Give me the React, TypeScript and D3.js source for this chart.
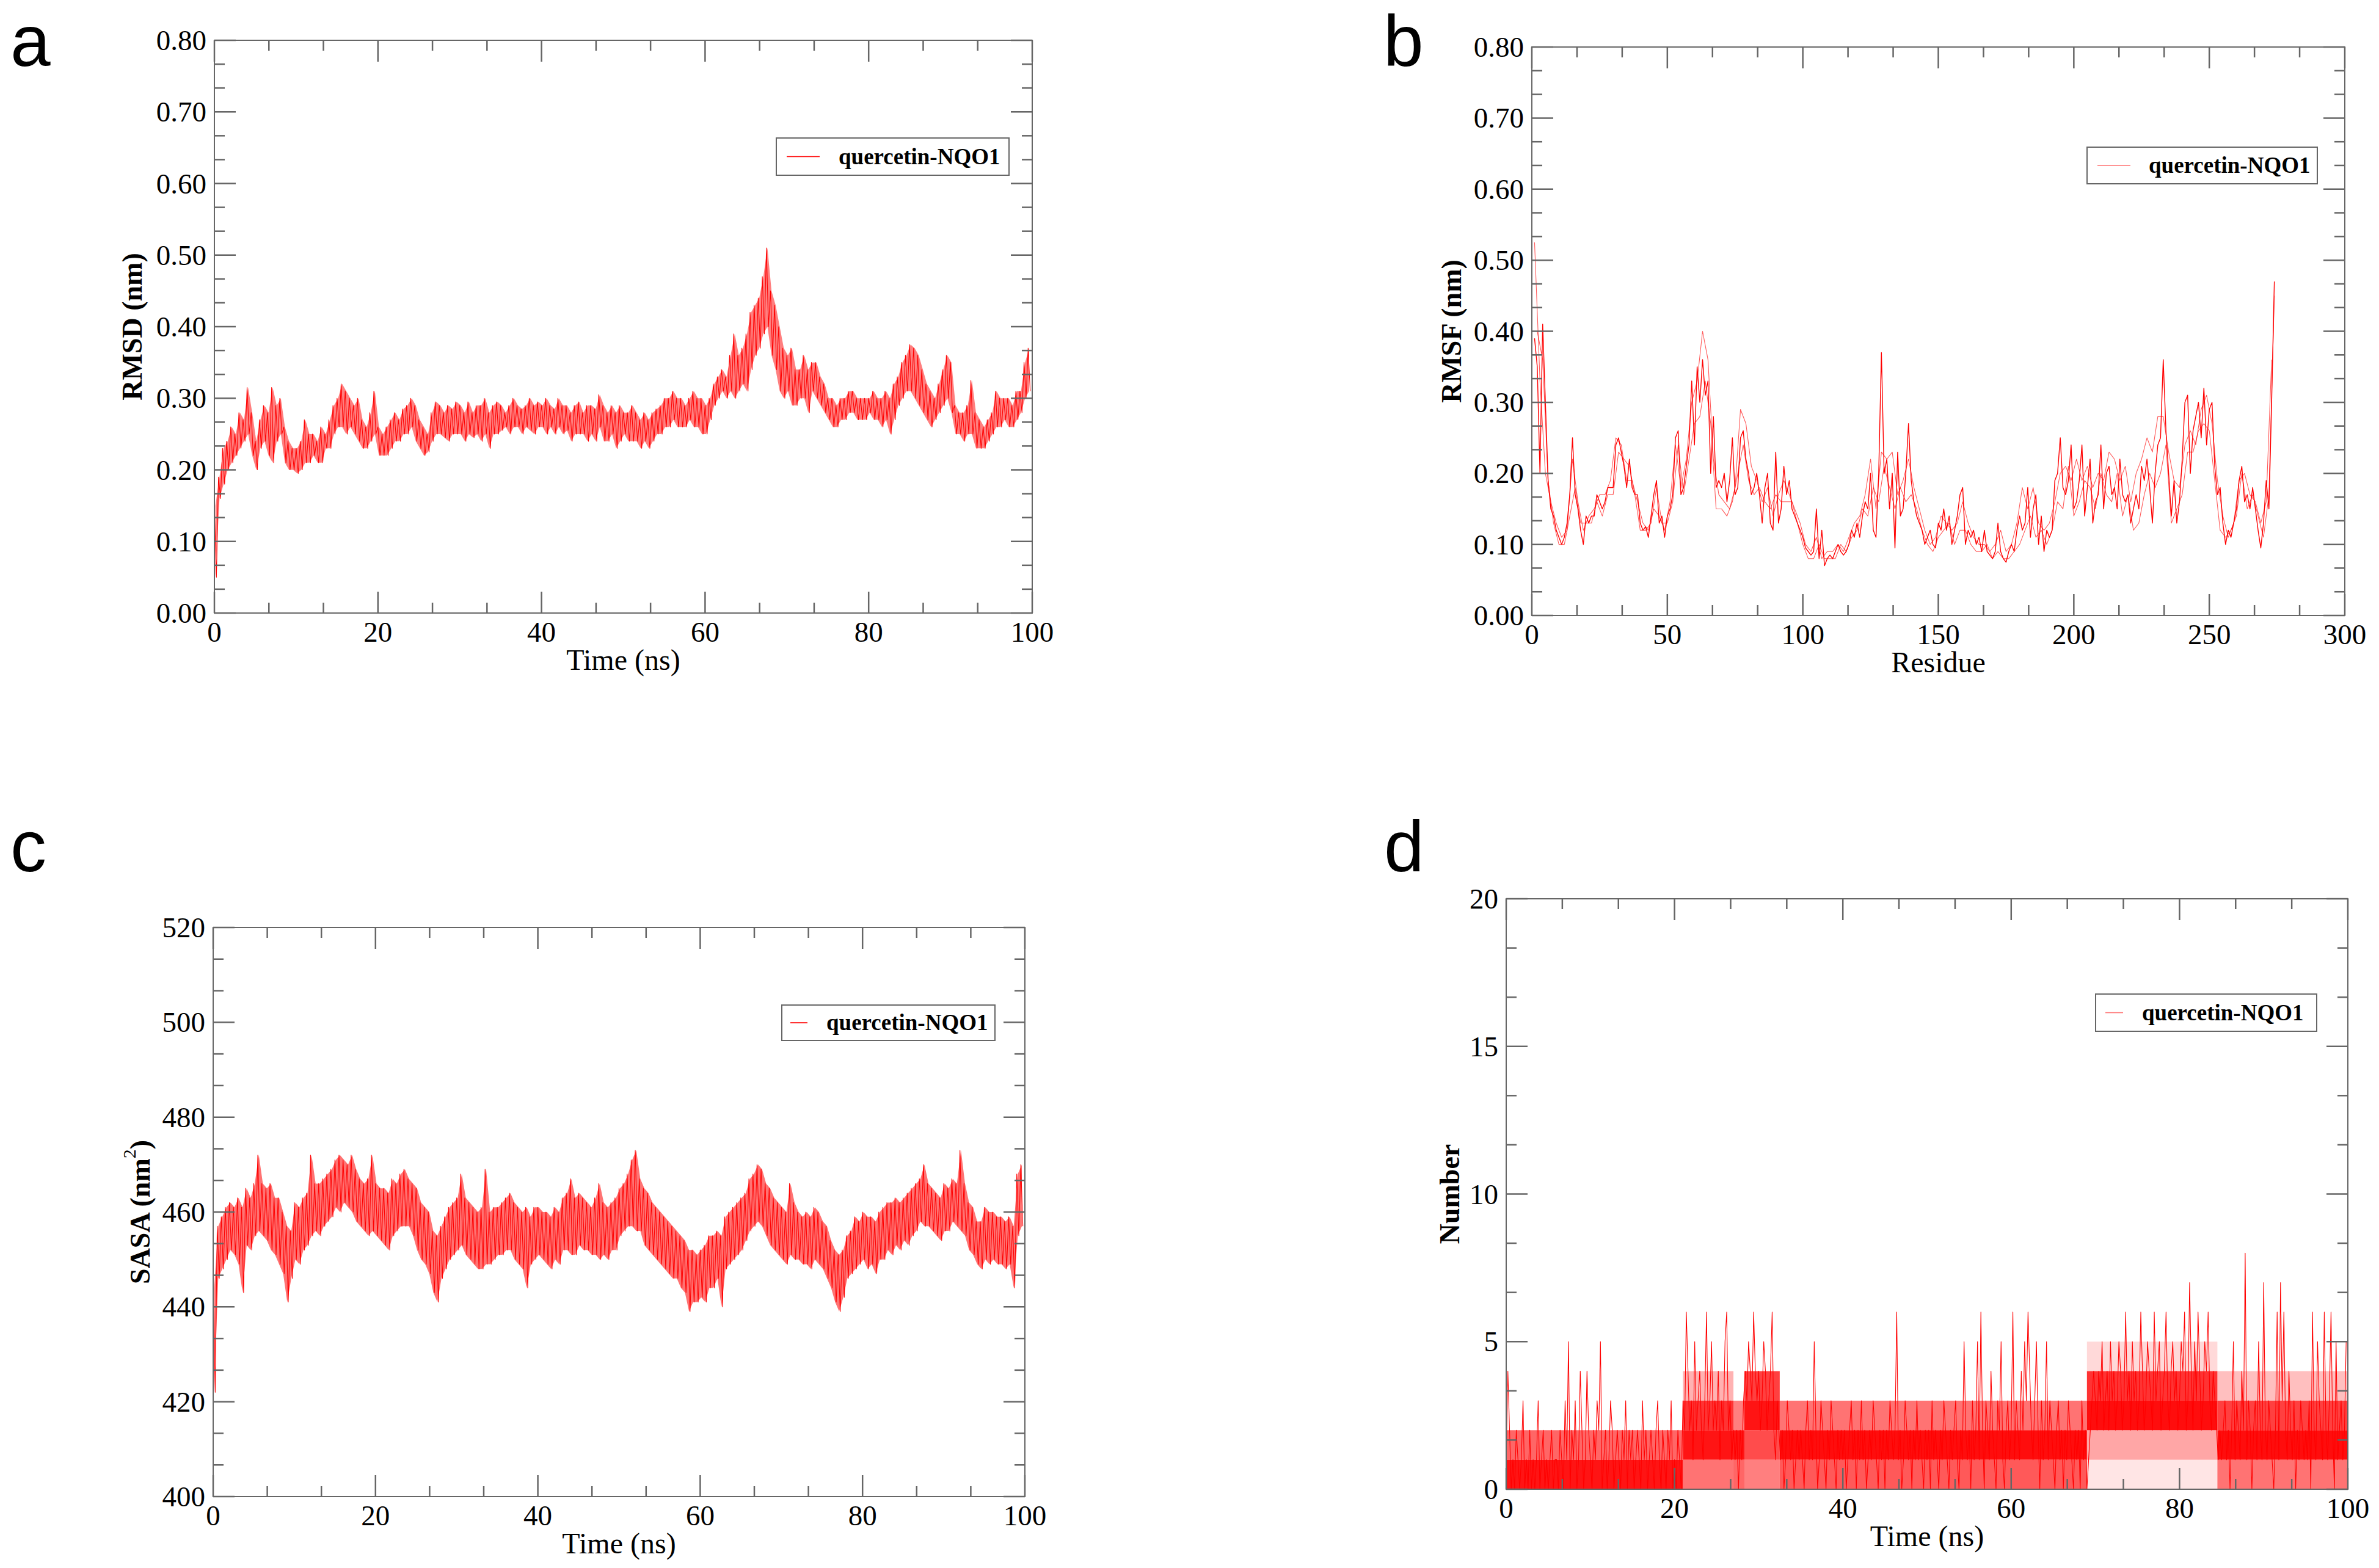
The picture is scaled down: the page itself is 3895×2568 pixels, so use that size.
import React, { useEffect, useRef } from 'react';
import * as d3 from 'd3';

// RMSD (nm): upper / lower edge of the trace in 0.5 ns bins
const rmsdStep = 0.5;
const rmsdHigh = [
  0.15, 0.19, 0.23, 0.24, 0.26, 0.25, 0.28, 0.27, 0.315, 0.28, 0.24, 0.27, 0.29, 0.28, 0.315, 0.29, 0.30, 0.26, 0.24, 0.23,
  0.23, 0.24, 0.27, 0.25, 0.25, 0.24, 0.26, 0.25, 0.27, 0.29, 0.30, 0.32, 0.31, 0.30, 0.29, 0.30, 0.27, 0.26, 0.28, 0.31,
  0.26, 0.25, 0.26, 0.27, 0.28, 0.27, 0.285, 0.29, 0.30, 0.29, 0.27, 0.26, 0.25, 0.28, 0.295, 0.29, 0.28, 0.29, 0.285, 0.295,
  0.29, 0.28, 0.295, 0.28, 0.29, 0.29, 0.30, 0.28, 0.29, 0.295, 0.29, 0.28, 0.29, 0.30, 0.29, 0.285, 0.29, 0.30, 0.29, 0.295,
  0.29, 0.30, 0.29, 0.285, 0.30, 0.29, 0.29, 0.28, 0.29, 0.295, 0.28, 0.29, 0.29, 0.285, 0.305, 0.29, 0.28, 0.29, 0.28, 0.29,
  0.28, 0.28, 0.29, 0.28, 0.27, 0.28, 0.27, 0.28, 0.285, 0.29, 0.30, 0.30, 0.31, 0.30, 0.30, 0.29, 0.30, 0.31, 0.30, 0.30,
  0.29, 0.30, 0.32, 0.33, 0.34, 0.33, 0.36, 0.39, 0.36, 0.37, 0.39, 0.42, 0.43, 0.44, 0.47, 0.51, 0.45, 0.43, 0.40, 0.37,
  0.36, 0.37, 0.34, 0.34, 0.36, 0.34, 0.35, 0.35, 0.33, 0.32, 0.30, 0.30, 0.29, 0.30, 0.30, 0.31, 0.31, 0.30, 0.30, 0.30,
  0.30, 0.31, 0.30, 0.30, 0.31, 0.30, 0.32, 0.33, 0.35, 0.36, 0.375, 0.37, 0.36, 0.34, 0.32, 0.31, 0.30, 0.32, 0.34, 0.36,
  0.35, 0.29, 0.28, 0.28, 0.29, 0.325, 0.28, 0.27, 0.26, 0.27, 0.28, 0.31, 0.30, 0.30, 0.30, 0.29, 0.31, 0.31, 0.35, 0.37,
];
const rmsdLow = [
  0.05, 0.16, 0.18, 0.20, 0.21, 0.22, 0.23, 0.24, 0.25, 0.22, 0.20, 0.23, 0.24, 0.22, 0.21, 0.24, 0.25, 0.21, 0.20, 0.20,
  0.195, 0.20, 0.21, 0.21, 0.22, 0.21, 0.21, 0.23, 0.23, 0.25, 0.26, 0.26, 0.25, 0.26, 0.25, 0.24, 0.23, 0.23, 0.24, 0.25,
  0.22, 0.22, 0.22, 0.23, 0.24, 0.24, 0.25, 0.25, 0.26, 0.24, 0.23, 0.22, 0.225, 0.24, 0.25, 0.25, 0.245, 0.24, 0.25, 0.25,
  0.25, 0.24, 0.25, 0.245, 0.25, 0.24, 0.25, 0.23, 0.25, 0.25, 0.255, 0.26, 0.25, 0.26, 0.26, 0.25, 0.26, 0.255, 0.25, 0.26,
  0.26, 0.25, 0.26, 0.25, 0.26, 0.25, 0.255, 0.24, 0.25, 0.25, 0.25, 0.24, 0.25, 0.24, 0.26, 0.24, 0.24, 0.25, 0.23, 0.24,
  0.25, 0.24, 0.24, 0.24, 0.23, 0.24, 0.23, 0.24, 0.25, 0.25, 0.26, 0.26, 0.27, 0.26, 0.26, 0.26, 0.27, 0.26, 0.26, 0.25,
  0.25, 0.27, 0.29, 0.30, 0.31, 0.30, 0.31, 0.30, 0.31, 0.32, 0.31, 0.34, 0.36, 0.37, 0.39, 0.40, 0.36, 0.34, 0.31, 0.30,
  0.31, 0.29, 0.29, 0.30, 0.30, 0.28, 0.31, 0.30, 0.29, 0.28, 0.27, 0.26, 0.26, 0.27, 0.27, 0.28, 0.28, 0.27, 0.27, 0.27,
  0.28, 0.27, 0.27, 0.26, 0.27, 0.25, 0.27, 0.29, 0.30, 0.31, 0.31, 0.30, 0.29, 0.28, 0.27, 0.26, 0.27, 0.28, 0.29, 0.30,
  0.28, 0.25, 0.25, 0.24, 0.25, 0.25, 0.23, 0.23, 0.23, 0.24, 0.25, 0.26, 0.26, 0.27, 0.26, 0.26, 0.27, 0.28, 0.30, 0.31,
];

// RMSF (nm) per residue, three overlaid traces
const rmsfMain = [
  0.39, 0.35, 0.20, 0.41, 0.30, 0.19, 0.15, 0.14, 0.12, 0.11, 0.10, 0.11, 0.13, 0.17, 0.25, 0.17, 0.15, 0.12, 0.10, 0.14,
  0.13, 0.14, 0.14, 0.17, 0.16, 0.15, 0.16, 0.18, 0.18, 0.18, 0.24, 0.25, 0.23, 0.21, 0.18, 0.22, 0.18, 0.17, 0.17, 0.13,
  0.12, 0.125, 0.11, 0.14, 0.17, 0.19, 0.13, 0.14, 0.11, 0.14, 0.15, 0.17, 0.25, 0.26, 0.17, 0.18, 0.21, 0.24, 0.33, 0.24,
  0.35, 0.30, 0.36, 0.31, 0.33, 0.20, 0.28, 0.18, 0.19, 0.18, 0.20, 0.16, 0.19, 0.25, 0.17, 0.18, 0.25, 0.26, 0.22, 0.20,
  0.17, 0.18, 0.20, 0.17, 0.13, 0.18, 0.20, 0.13, 0.12, 0.23, 0.13, 0.15, 0.21, 0.17, 0.19, 0.15, 0.14, 0.13, 0.12, 0.11,
  0.095, 0.09, 0.085, 0.09, 0.15, 0.08, 0.12, 0.07, 0.08, 0.085, 0.08, 0.09, 0.10, 0.09, 0.085, 0.09, 0.10, 0.12, 0.11, 0.13,
  0.11, 0.14, 0.16, 0.15, 0.20, 0.12, 0.11, 0.20, 0.37, 0.20, 0.22, 0.15, 0.20, 0.095, 0.23, 0.14, 0.15, 0.20, 0.27, 0.19,
  0.16, 0.14, 0.13, 0.12, 0.10, 0.11, 0.12, 0.10, 0.095, 0.13, 0.12, 0.15, 0.12, 0.14, 0.10, 0.12, 0.14, 0.17, 0.18, 0.10,
  0.12, 0.11, 0.12, 0.10, 0.11, 0.09, 0.12, 0.09, 0.085, 0.08, 0.09, 0.13, 0.09, 0.08, 0.075, 0.09, 0.10, 0.09, 0.12, 0.14,
  0.12, 0.13, 0.18, 0.11, 0.15, 0.17, 0.10, 0.14, 0.09, 0.12, 0.11, 0.12, 0.19, 0.20, 0.25, 0.18, 0.17, 0.19, 0.24, 0.15,
  0.16, 0.19, 0.24, 0.14, 0.18, 0.22, 0.13, 0.16, 0.17, 0.24, 0.15, 0.20, 0.21, 0.17, 0.18, 0.15, 0.22, 0.17, 0.16, 0.17,
  0.13, 0.15, 0.17, 0.15, 0.21, 0.19, 0.22, 0.18, 0.13, 0.20, 0.24, 0.25, 0.36, 0.26, 0.20, 0.14, 0.19, 0.13, 0.16, 0.22,
  0.30, 0.31, 0.20, 0.26, 0.28, 0.30, 0.25, 0.32, 0.24, 0.29, 0.30, 0.21, 0.17, 0.18, 0.13, 0.10, 0.12, 0.11, 0.13, 0.15,
  0.19, 0.21, 0.16, 0.17, 0.15, 0.18, 0.15, 0.12, 0.095, 0.13, 0.19, 0.15, 0.30, 0.47,
];
// residues 1, 3, 5, ... 273
const rmsfOdd = [
  0.525, 0.33, 0.20, 0.16, 0.13, 0.11, 0.12, 0.22, 0.16, 0.12, 0.14, 0.15, 0.17, 0.17, 0.19, 0.25, 0.24, 0.19, 0.19, 0.16,
  0.13, 0.12, 0.15, 0.14, 0.12, 0.16, 0.24, 0.18, 0.22, 0.30, 0.33, 0.40, 0.36, 0.22, 0.17, 0.16, 0.15, 0.18, 0.29, 0.27,
  0.21, 0.19, 0.16, 0.18, 0.14, 0.17, 0.19, 0.17, 0.15, 0.13, 0.10, 0.09, 0.11, 0.08, 0.09, 0.09, 0.10, 0.09, 0.11, 0.13,
  0.14, 0.17, 0.22, 0.15, 0.23, 0.22, 0.23, 0.17, 0.19, 0.22, 0.18, 0.15, 0.12, 0.10, 0.11, 0.14, 0.13, 0.12, 0.13, 0.16,
  0.13, 0.11, 0.10, 0.10, 0.09, 0.10, 0.12, 0.09, 0.10, 0.13, 0.18, 0.15, 0.18, 0.13, 0.12, 0.13, 0.16, 0.20, 0.21, 0.19,
  0.22, 0.19, 0.21, 0.18, 0.20, 0.19, 0.23, 0.22, 0.19, 0.21, 0.16, 0.20, 0.22, 0.25, 0.23, 0.28, 0.28, 0.23, 0.19, 0.18,
  0.24, 0.26, 0.24, 0.29, 0.31, 0.27, 0.19, 0.14, 0.11, 0.13, 0.19, 0.20, 0.17, 0.16, 0.13, 0.16, 0.36,
];
// residues 2, 4, 6, ... 274
const rmsfEven = [
  0.40, 0.36, 0.19, 0.13, 0.10, 0.10, 0.14, 0.18, 0.13, 0.13, 0.13, 0.16, 0.14, 0.17, 0.17, 0.23, 0.22, 0.21, 0.17, 0.12,
  0.12, 0.13, 0.18, 0.13, 0.13, 0.16, 0.24, 0.17, 0.22, 0.27, 0.28, 0.33, 0.27, 0.15, 0.15, 0.14, 0.16, 0.20, 0.24, 0.19,
  0.17, 0.18, 0.16, 0.15, 0.17, 0.16, 0.16, 0.16, 0.13, 0.10, 0.08, 0.08, 0.10, 0.08, 0.08, 0.08, 0.10, 0.09, 0.11, 0.12,
  0.15, 0.14, 0.18, 0.16, 0.21, 0.18, 0.15, 0.18, 0.16, 0.17, 0.15, 0.12, 0.10, 0.09, 0.11, 0.12, 0.13, 0.10, 0.12, 0.12,
  0.10, 0.09, 0.09, 0.10, 0.08, 0.09, 0.08, 0.08, 0.09, 0.10, 0.12, 0.14, 0.11, 0.12, 0.10, 0.12, 0.16, 0.15, 0.21, 0.14,
  0.16, 0.19, 0.18, 0.15, 0.20, 0.17, 0.16, 0.20, 0.14, 0.17, 0.12, 0.13, 0.17, 0.20, 0.18, 0.20, 0.24, 0.13, 0.15, 0.17,
  0.23, 0.23, 0.26, 0.27, 0.26, 0.19, 0.12, 0.11, 0.12, 0.14, 0.20, 0.15, 0.17, 0.14, 0.11, 0.17, 0.45,
];

// SASA (nm^2): upper / lower edge of the trace in 0.5 ns bins
const sasaStep = 0.5;
const sasaHigh = [
  444, 457, 459, 461, 462, 461, 463, 461, 465, 463, 466, 472, 466, 465, 466, 463, 463, 460, 457, 456,
  462, 461, 463, 464, 472, 466, 466, 467, 468, 469, 471, 472, 471, 470, 472, 469, 467, 466, 467, 472,
  466, 465, 465, 464, 467, 466, 468, 469, 467, 466, 465, 462, 461, 460, 456, 455, 457, 459, 461, 462,
  463, 468, 463, 462, 461, 460, 461, 469, 460, 461, 461, 462, 463, 464, 462, 461, 460, 461, 459, 461,
  461, 460, 460, 459, 461, 460, 463, 464, 467, 463, 464, 463, 462, 461, 463, 466, 462, 461, 462, 463,
  465, 466, 468, 471, 473, 467, 465, 464, 462, 461, 460, 459, 458, 457, 456, 455, 454, 452, 452, 451,
  452, 453, 455, 455, 456, 455, 459, 460, 461, 462, 463, 464, 467, 468, 470, 469, 466, 465, 463, 462,
  461, 460, 466, 462, 460, 459, 460, 459, 461, 460, 458, 457, 454, 452, 451, 452, 455, 456, 459, 458,
  460, 459, 459, 458, 460, 461, 462, 462, 463, 462, 463, 464, 465, 466, 467, 470, 466, 465, 464, 463,
  466, 465, 467, 466, 473, 466, 462, 461, 458, 458, 461, 460, 460, 459, 459, 458, 459, 457, 468, 470,
];
const sasaLow = [
  422, 446, 448, 450, 452, 451, 449, 443, 453, 452, 455, 456, 455, 454, 452, 451, 449, 447, 441, 446,
  450, 449, 452, 453, 455, 456, 455, 457, 458, 459, 461, 460, 462, 461, 460, 458, 457, 456, 455, 456,
  455, 454, 453, 452, 455, 456, 457, 457, 457, 455, 452, 450, 449, 447, 443, 441, 446, 448, 450, 451,
  452, 453, 451, 450, 449, 448, 448, 449, 449, 450, 451, 451, 452, 452, 450, 449, 448, 444, 449, 450,
  451, 450, 449, 448, 450, 449, 452, 452, 451, 451, 453, 452, 452, 451, 451, 450, 451, 450, 452, 452,
  455, 456, 457, 457, 456, 456, 453, 452, 451, 450, 449, 448, 447, 446, 446, 444, 443, 439, 441, 441,
  442, 441, 444, 444, 446, 440, 448, 449, 450, 451, 452, 454, 456, 457, 458, 457, 455, 453, 452, 451,
  450, 449, 451, 450, 450, 449, 449, 448, 450, 449, 448, 446, 444, 441, 439, 442, 446, 447, 448, 449,
  450, 448, 449, 447, 450, 450, 452, 451, 453, 452, 454, 453, 455, 456, 458, 457, 457, 456, 455, 454,
  456, 456, 458, 457, 456, 455, 452, 451, 449, 448, 450, 449, 450, 449, 449, 448, 449, 444, 455, 457,
];

// hydrogen bond count, one value every 0.2 ns
const hbondStep = 0.2;
const hbondCounts = [
  1, 4, 2, 0, 1, 0, 2, 1, 0, 1, 3, 0, 1, 0, 2, 0, 1, 0, 1, 3, 0, 1, 2, 0, 1,
  0, 1, 2, 0, 1, 1, 0, 2, 1, 0, 3, 1, 5, 0, 2, 1, 3, 0, 1, 4, 2, 0, 1, 4, 2,
  1, 0, 2, 1, 3, 2, 5, 0, 1, 2, 0, 1, 3, 2, 0, 1, 2, 1, 0, 2, 1, 3, 0, 2, 1,
  2, 0, 1, 2, 1, 0, 3, 1, 2, 0, 1, 2, 1, 0, 2, 3, 1, 0, 2, 1, 0, 2, 1, 3, 0,
  1, 0, 2, 1, 0, 3, 2, 6, 4, 2, 3, 1, 5, 2, 3, 4, 2, 1, 3, 6, 2, 3, 5, 2, 3,
  2, 4, 1, 3, 2, 5, 6, 2, 3, 1, 2, 1, 2, 0, 2, 1, 3, 4, 3, 5, 4, 3, 6, 4, 3,
  4, 2, 3, 5, 4, 2, 3, 4, 6, 2, 1, 3, 2, 1, 2, 0, 1, 3, 2, 1, 2, 0, 1, 2, 1,
  2, 1, 0, 2, 3, 1, 2, 1, 5, 2, 0, 1, 3, 2, 1, 0, 2, 1, 3, 2, 1, 0, 2, 1, 2,
  1, 2, 0, 1, 2, 3, 1, 2, 0, 2, 1, 3, 1, 2, 0, 1, 2, 1, 3, 2, 1, 0, 2, 1, 2,
  0, 2, 1, 3, 2, 1, 2, 6, 1, 2, 0, 1, 3, 2, 1, 2, 0, 2, 1, 3, 1, 2, 1, 0, 2,
  1, 2, 0, 3, 1, 2, 1, 0, 2, 1, 3, 2, 1, 0, 2, 1, 2, 3, 1, 0, 2, 1, 5, 2, 1,
  2, 0, 3, 1, 2, 5, 1, 6, 2, 0, 3, 2, 1, 4, 2, 1, 0, 3, 2, 5, 1, 0, 2, 3, 1,
  2, 6, 1, 3, 2, 1, 4, 2, 5, 3, 6, 4, 2, 1, 3, 5, 2, 0, 3, 1, 2, 5, 1, 3, 2,
  1, 0, 2, 3, 1, 2, 0, 2, 1, 3, 2, 1, 0, 2, 1, 2, 0, 3, 1, 2, 0, 1, 2, 3, 4,
  3, 2, 4, 3, 5, 2, 3, 4, 2, 5, 3, 4, 2, 3, 5, 4, 2, 3, 6, 3, 4, 2, 5, 3, 4,
  2, 3, 6, 4, 2, 3, 5, 4, 3, 2, 6, 3, 4, 5, 2, 3, 4, 6, 3, 2, 4, 5, 3, 4, 2,
  3, 5, 4, 6, 2, 3, 7, 4, 2, 5, 3, 6, 4, 2, 3, 5, 4, 6, 3, 2, 4, 3, 2, 1, 2,
  1, 2, 3, 1, 2, 0, 2, 5, 1, 3, 2, 1, 4, 2, 8, 1, 3, 2, 0, 2, 3, 1, 5, 2, 1,
  7, 2, 1, 3, 2, 1, 0, 2, 6, 1, 7, 3, 6, 2, 1, 4, 2, 1, 3, 0, 2, 1, 3, 2, 1,
  2, 1, 3, 0, 6, 2, 1, 5, 3, 2, 1, 6, 2, 1, 3, 6, 2, 0, 5, 1, 2, 3, 1, 2, 5,
];
// how densely the trace fills each unit band [level, level + 1] over a time span
const hbSpanFrom = [0, 0, 21, 21, 21, 21, 27, 27, 27, 28.3, 28.3, 28.3, 28.3, 32.5, 32.5, 32.5, 69, 69, 69, 69, 69, 84.5, 84.5, 84.5, 84.5];
const hbSpanTo = [21, 21, 27, 27, 27, 27, 28.3, 28.3, 28.3, 32.5, 32.5, 32.5, 32.5, 69, 69, 69, 84.5, 84.5, 84.5, 84.5, 84.5, 100, 100, 100, 100];
const hbSpanLevel = [0, 1, 0, 1, 2, 3, 0, 1, 2, 0, 1, 2, 3, 0, 1, 2, 0, 1, 2, 3, 4, 0, 1, 2, 3];
const hbSpanFill = [0.92, 0.6, 0.55, 0.92, 0.8, 0.3, 0.6, 0.92, 0.5, 0.5, 0.7, 0.92, 0.75, 0.65, 0.95, 0.55, 0.1, 0.35, 0.95, 0.8, 0.15, 0.55, 0.95, 0.75, 0.25];

const legendLabel = 'quercetin-NQO1';

type Pt = [number, number];

interface Series {
  points: Pt[];
  color: string;
  width: number;
  opacity?: number;
}

interface Band {
  t: number[];
  lo: number[];
  hi: number[];
  opacity: number;
}

interface Span {
  from: number; to: number; lo: number; hi: number; opacity: number;
}

interface Panel {
  left: number; right: number; top: number; bottom: number;
  xDomain: [number, number]; yDomain: [number, number];
  xTicks: number; yTicks: number; yFormat: string;
  xTitle: string; yTitle: string; yTitleSup?: string; yTitleClose?: string; yTitleX: number;
  letter: string; letterX: number; letterY: number;
  legend: { x0: number; x1: number; y0: number; y1: number; lineX0: number; lineX1: number; textX: number; color: string };
  series: Series[];
  bands?: Band[];
  spans?: Span[];
}

const SERIF = '"Liberation Serif", "Times New Roman", serif';
const SANS = '"Liberation Sans", Arial, sans-serif';
const FRAME = '#666';
const RED = '#ff0000';

// zig-zag between the upper and lower edge of each bin
const envelope = (hi: number[], lo: number[], step: number): Pt[] =>
  hi.flatMap((h, i) => [[i * step, h], [i * step + step / 2, lo[i]]] as Pt[]);

const binBand = (hi: number[], lo: number[], step: number, opacity: number): Band => ({
  t: hi.map((_, i) => i * step + step / 4),
  lo,
  hi,
  opacity,
});

const panels: Panel[] = [
  {
    left: 351, right: 1690, top: 66, bottom: 1004,
    xDomain: [0, 100], yDomain: [0, 0.8], xTicks: 5, yTicks: 8, yFormat: '.2f',
    xTitle: 'Time (ns)', yTitle: 'RMSD (nm)', yTitleX: 216,
    letter: 'a', letterX: 17, letterY: 108,
    legend: { x0: 1271, x1: 1652, y0: 226, y1: 287, lineX0: 1288, lineX1: 1342, textX: 1373, color: RED },
    bands: [binBand(rmsdHigh, rmsdLow, rmsdStep, 0.5)],
    series: [{ points: envelope(rmsdHigh, rmsdLow, rmsdStep), color: RED, width: 1.1 }],
  },
  {
    left: 2508, right: 3839, top: 77, bottom: 1008,
    xDomain: [0, 300], yDomain: [0, 0.8], xTicks: 6, yTicks: 8, yFormat: '.2f',
    xTitle: 'Residue', yTitle: 'RMSF (nm)', yTitleX: 2376,
    letter: 'b', letterX: 2265, letterY: 108,
    legend: { x0: 3417, x1: 3794, y0: 241, y1: 301, lineX0: 3434, lineX1: 3488, textX: 3518, color: '#ff7070' },
    series: [
      { points: rmsfOdd.map((v, i) => [2 * i + 1, v] as Pt), color: RED, width: 1.1, opacity: 0.65 },
      { points: rmsfEven.map((v, i) => [2 * i + 2, v] as Pt), color: RED, width: 1.1, opacity: 0.65 },
      { points: rmsfMain.map((v, i) => [i + 1, v] as Pt), color: RED, width: 1.4 },
    ],
  },
  {
    left: 349, right: 1678, top: 1519, bottom: 2451,
    xDomain: [0, 100], yDomain: [400, 520], xTicks: 5, yTicks: 6, yFormat: 'd',
    xTitle: 'Time (ns)', yTitle: 'SASA (nm', yTitleSup: '2', yTitleClose: ')', yTitleX: 229,
    letter: 'c', letterX: 17, letterY: 1427,
    legend: { x0: 1280, x1: 1629, y0: 1646, y1: 1704, lineX0: 1294, lineX1: 1322, textX: 1353, color: RED },
    bands: [binBand(sasaHigh, sasaLow, sasaStep, 0.55)],
    series: [{ points: envelope(sasaHigh, sasaLow, sasaStep), color: RED, width: 1.1 }],
  },
  {
    left: 2466, right: 3844, top: 1472, bottom: 2439,
    xDomain: [0, 100], yDomain: [0, 20], xTicks: 5, yTicks: 4, yFormat: 'd',
    xTitle: 'Time (ns)', yTitle: 'Number', yTitleX: 2373,
    letter: 'd', letterX: 2266, letterY: 1427,
    legend: { x0: 3431, x1: 3793, y0: 1628, y1: 1689, lineX0: 3447, lineX1: 3476, textX: 3507, color: '#ff7070' },
    spans: hbSpanFrom.map((from, i) => ({
      from, to: hbSpanTo[i], lo: hbSpanLevel[i], hi: hbSpanLevel[i] + 1, opacity: hbSpanFill[i],
    })),
    series: [{ points: hbondCounts.map((v, i) => [i * hbondStep, v] as Pt), color: RED, width: 1.1 }],
  },
];

function drawPanel(svg: d3.Selection<SVGSVGElement, unknown, null, undefined>, p: Panel) {
  const x = d3.scaleLinear().domain(p.xDomain).range([p.left, p.right]);
  const y = d3.scaleLinear().domain(p.yDomain).range([p.bottom, p.top]);
  const g = svg.append('g');

  // dense core of the noisy traces
  (p.bands ?? []).forEach(b => {
    const area = d3.area<number>()
      .x(i => x(b.t[i]))
      .y0(i => y(b.lo[i]))
      .y1(i => y(b.hi[i]));
    g.append('path')
      .attr('d', area(d3.range(b.t.length)) ?? '')
      .attr('fill', RED)
      .attr('fill-opacity', b.opacity);
  });

  g.selectAll('.span')
    .data(p.spans ?? [])
    .join('rect')
    .attr('x', d => x(d.from))
    .attr('width', d => x(d.to) - x(d.from))
    .attr('y', d => y(d.hi))
    .attr('height', d => y(d.lo) - y(d.hi))
    .attr('fill', RED)
    .attr('fill-opacity', d => d.opacity);

  // data lines
  const line = d3.line<Pt>().x(d => x(d[0])).y(d => y(d[1]));
  p.series.forEach(s => {
    g.append('path')
      .attr('d', line(s.points) ?? '')
      .attr('fill', 'none')
      .attr('stroke', s.color)
      .attr('stroke-width', s.width)
      .attr('stroke-opacity', s.opacity ?? 1)
      .attr('stroke-linejoin', 'round');
  });

  // frame
  g.append('rect')
    .attr('x', p.left).attr('y', p.top)
    .attr('width', p.right - p.left).attr('height', p.bottom - p.top)
    .attr('fill', 'none').attr('stroke', FRAME).attr('stroke-width', 2);

  // ticks, inward on all four sides
  const minors = (arr: number[]) => d3.pairs(arr).flatMap(([a, b]) => [a + (b - a) / 3, a + (2 * (b - a)) / 3]);
  const xMajor = x.ticks(p.xTicks);
  const yMajor = y.ticks(p.yTicks);
  const sets = [
    { xs: xMajor, ys: yMajor, len: 35 },
    { xs: minors(xMajor), ys: minors(yMajor), len: 17 },
  ];
  sets.forEach(({ xs, ys, len }) => {
    xs.forEach(v => {
      [[p.bottom, p.bottom - len], [p.top, p.top + len]].forEach(([a, b]) => {
        g.append('line').attr('x1', x(v)).attr('x2', x(v)).attr('y1', a).attr('y2', b)
          .attr('stroke', FRAME).attr('stroke-width', 2.5);
      });
    });
    ys.forEach(v => {
      [[p.left, p.left + len], [p.right, p.right - len]].forEach(([a, b]) => {
        g.append('line').attr('y1', y(v)).attr('y2', y(v)).attr('x1', a).attr('x2', b)
          .attr('stroke', FRAME).attr('stroke-width', 2.5);
      });
    });
  });

  // tick labels
  g.selectAll('.xlab')
    .data(xMajor)
    .join('text')
    .attr('x', d => x(d))
    .attr('y', p.bottom + 31)
    .attr('text-anchor', 'middle')
    .attr('dominant-baseline', 'central')
    .attr('font-family', SERIF)
    .attr('font-size', 47)
    .text(d => d3.format('d')(d));

  const yFmt = d3.format(p.yFormat);
  g.selectAll('.ylab')
    .data(yMajor)
    .join('text')
    .attr('x', p.left - 13)
    .attr('y', d => y(d))
    .attr('text-anchor', 'end')
    .attr('dominant-baseline', 'central')
    .attr('font-family', SERIF)
    .attr('font-size', 47)
    .text(d => yFmt(d));

  // axis titles
  g.append('text')
    .attr('x', (p.left + p.right) / 2)
    .attr('y', p.bottom + 93)
    .attr('text-anchor', 'middle')
    .attr('font-family', SERIF)
    .attr('font-size', 48)
    .text(p.xTitle);

  const yt = g.append('text')
    .attr('transform', `translate(${p.yTitleX},${(p.top + p.bottom) / 2}) rotate(-90)`)
    .attr('text-anchor', 'middle')
    .attr('dominant-baseline', 'central')
    .attr('font-family', SERIF)
    .attr('font-weight', 'bold')
    .attr('font-size', 46);
  yt.append('tspan').text(p.yTitle);
  if (p.yTitleSup) {
    yt.append('tspan').attr('dy', -18).attr('font-size', 30).attr('font-weight', 'normal').text(p.yTitleSup);
    yt.append('tspan').attr('dy', 18).text(p.yTitleClose ?? '');
  }

  // panel letter
  g.append('text')
    .attr('x', p.letterX)
    .attr('y', p.letterY)
    .attr('font-family', SANS)
    .attr('font-size', 118)
    .text(p.letter);

  // legend
  const L = p.legend;
  const cy = (L.y0 + L.y1) / 2;
  g.append('rect')
    .attr('x', L.x0).attr('y', L.y0)
    .attr('width', L.x1 - L.x0).attr('height', L.y1 - L.y0)
    .attr('fill', '#fff').attr('stroke', FRAME).attr('stroke-width', 2);
  g.append('line')
    .attr('x1', L.lineX0).attr('x2', L.lineX1).attr('y1', cy).attr('y2', cy)
    .attr('stroke', L.color).attr('stroke-width', 1.6);
  g.append('text')
    .attr('x', L.textX)
    .attr('y', cy + 12)
    .attr('font-family', SERIF)
    .attr('font-weight', 'bold')
    .attr('font-size', 37)
    .text(legendLabel);
}

export default function App() {
  const svgRef = useRef<SVGSVGElement>(null);

  useEffect(() => {
    if (!svgRef.current) return;
    const svg = d3.select(svgRef.current);
    svg.selectAll('*').remove();
    panels.forEach(p => drawPanel(svg, p));
  }, []);

  return (
    <svg
      ref={svgRef}
      width={3895}
      height={2568}
      style={{ position: 'absolute', left: 0, top: 0, background: '#fff' }}
    />
  );
}
